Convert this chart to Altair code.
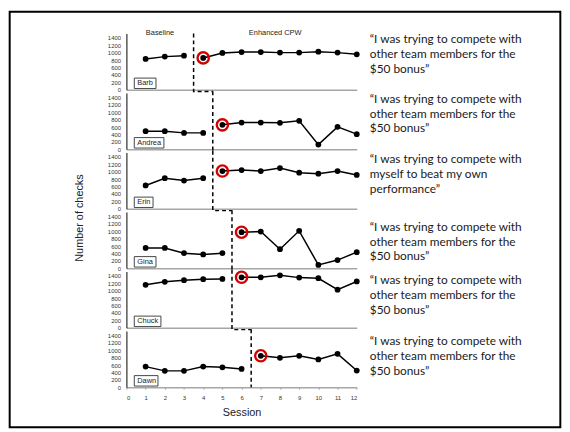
import altair as alt
import pandas as pd

# ---------------- data ----------------
SESSIONS = list(range(1, 13))
NAMES = ["Barb", "Andrea", "Erin", "Gina", "Chuck", "Dawn"]
PHASE_START = [4, 5, 5, 6, 6, 7]          # first Enhanced CPW session
BARB = [833, 895, 921, 860, 993, 1019, 1019, 1003, 1003, 1028, 1003, 958]
ANDREA = [488, 488, 442, 442, 659, 722, 722, 713, 768, 125, 605, 407]
ERIN = [629, 825, 761, 825, 1019, 1046, 1019, 1099, 974, 947, 1019, 913]
GINA = [548, 548, 407, 372, 407, 974, 993, 514, 1011, 89, 221, 434]
CHUCK = [1160, 1241, 1286, 1312, 1320, 1364, 1364, 1418, 1355, 1338, 1028, 1250]
DAWN = [558, 443, 443, 558, 540, 496, 850, 797, 850, 753, 903, 452]
SERIES = [BARB, ANDREA, ERIN, GINA, CHUCK, DAWN]

Q_TEAM = "\u201cI was trying to compete with\nother team members for the\n$50 bonus\u201d"
Q_SELF = "\u201cI was trying to compete with\nmyself to beat my own\nperformance\u201d"
QUOTES = [Q_TEAM, Q_TEAM, Q_SELF, Q_TEAM, Q_TEAM, Q_TEAM]
PHASE_LABELS = ["Baseline", "Enhanced CPW"]
X_TICKS = list(range(0, 13))
Y_TICKS = [0, 200, 400, 600, 800, 1000, 1200, 1400]
X_TITLE = "Session"
Y_TITLE = "Number of checks"

# ---------------- layout ----------------
W, H, SPACING = 233.4, 57, 3.3
YMAX = 1520
PX_X = W / 12.0           # px per session
PX_Y = YMAX / H           # value units per px
FONT = "Liberation Sans"
QFONT = "Lato"
RED = "#d40000"
GRAY = "#a6a6a6"
BOX_W = {"Barb": 22, "Andrea": 30, "Erin": 19, "Gina": 22, "Chuck": 27, "Dawn": 24}
QUOTE_X = 12.68
QUOTE_TOP = [1493, 1493, 1477, 1253, 1416, 1379]
PHASE_LABEL_X = [1.75, 7.75]


def panel(i):
    name = NAMES[i]
    start = PHASE_START[i]
    last = i == len(NAMES) - 1

    if last:
        x_axis = alt.Axis(values=X_TICKS, labelFontSize=6, labelColor="#333", labelFont=FONT,
                          ticks=True, tickSize=2, tickColor=GRAY, labelPadding=5,
                          domainColor=GRAY, domainWidth=1.5, grid=False,
                          titleFont=FONT, titleFontSize=11, titleFontWeight="normal",
                          titleColor="#222", titlePadding=7)
    else:
        x_axis = alt.Axis(values=X_TICKS, labels=False, ticks=False, domainColor=GRAY,
                          domainWidth=1.5, grid=False)
    y_axis = alt.Axis(values=Y_TICKS, format="d", labelFontSize=6, labelColor="#333",
                      labelFont=FONT, ticks=False, labelPadding=6, domainColor="black",
                      domainWidth=1, grid=False)
    X = alt.X("session:Q", scale=alt.Scale(domain=[0, 12], nice=False, zero=False),
              axis=x_axis, title=X_TITLE if last else None)
    Y = alt.Y("checks:Q", scale=alt.Scale(domain=[0, YMAX], nice=False),
              axis=y_axis, title=None)

    df = pd.DataFrame({
        "session": SESSIONS,
        "checks": SERIES[i],
        "phase": ["base" if s < start else "tx" for s in SESSIONS],
    })
    first = df[df["session"] == start]

    layers = []
    layers.append(alt.Chart(df).mark_line(color="black", strokeWidth=1.5)
                  .encode(x=X, y=Y, detail="phase:N"))
    layers.append(alt.Chart(df).mark_circle(color="black", size=34, opacity=1)
                  .encode(x=X, y=Y))
    layers.append(alt.Chart(first).mark_point(shape="circle", filled=False, color=RED,
                                              strokeWidth=2.4, size=130, opacity=1)
                  .encode(x=X, y=Y))

    # dashed phase-change line
    p = start - 0.5
    top = YMAX if i == 0 else YMAX + 1.7 * PX_Y
    if last:
        dash = pd.DataFrame({"session": [p, p], "checks": [top, 0], "o": [0, 1]})
    else:
        pn = PHASE_START[i + 1] - 0.5
        yb = -1.9 * PX_Y
        dash = pd.DataFrame({"session": [p, p, pn], "checks": [top, yb, yb], "o": [0, 1, 2]})
    layers.append(alt.Chart(dash).mark_line(color="black", strokeWidth=1.5, strokeDash=[4, 3])
                  .encode(x=X, y=Y, order="o:Q"))

    # name box
    x0 = 0.41
    box = pd.DataFrame({"session": [x0], "session2": [x0 + BOX_W[name] / PX_X],
                        "checks": [1.2 * PX_Y], "checks2": [11.8 * PX_Y],
                        "label": [name], "ty": [6.5 * PX_Y]})
    layers.append(alt.Chart(box).mark_rect(fill="white", stroke="#444", strokeWidth=1)
                  .encode(x=X, x2=alt.X2("session2"), y=Y, y2=alt.Y2("checks2")))
    layers.append(alt.Chart(box).mark_text(align="left", baseline="middle", dx=3,
                                           font=FONT, fontSize=7.5, color="#222")
                  .encode(x=X, y=alt.Y("ty:Q", scale=alt.Scale(domain=[0, YMAX], nice=False),
                                       axis=y_axis, title=None),
                          text="label:N"))

    # quote
    qdf = pd.DataFrame({"session": [QUOTE_X], "checks": [QUOTE_TOP[i]], "q": [QUOTES[i]]})
    layers.append(alt.Chart(qdf).mark_text(align="left", baseline="top", lineBreak="\n",
                                           lineHeight=15, font=QFONT, fontSize=12,
                                           color="#1a1a1a")
                  .encode(x=X, y=Y, text="q:N"))

    if i == 0:
        ph = pd.DataFrame({"session": PHASE_LABEL_X, "checks": [YMAX, YMAX],
                           "t": PHASE_LABELS})
        layers.append(alt.Chart(ph).mark_text(align="center", baseline="middle", font=FONT,
                                              fontSize=7.5, color="#222")
                      .encode(x=X, y=Y, text="t:N"))
        # outer frame
        layers.append(alt.Chart(pd.DataFrame({"k": [0]}))
                      .mark_rect(fill="white", fillOpacity=0, stroke="black", strokeWidth=2)
                      .encode(x=alt.value(-118.3), x2=alt.value(439.7),
                              y=alt.value(-22), y2=alt.value(399)))
    if i == 3:
        yt = pd.DataFrame({"session": [(80 - 127.3) / PX_X], "checks": [YMAX - 6.1 * PX_Y],
                           "t": [Y_TITLE]})
        layers.append(alt.Chart(yt).mark_text(align="center", baseline="middle", angle=270,
                                              font=FONT, fontSize=11, color="#222")
                      .encode(x=X, y=Y, text="t:N"))

    return alt.layer(*layers).properties(width=W, height=H)


chart = alt.vconcat(*[panel(i) for i in range(len(NAMES))], spacing=SPACING,
                    bounds="flush", padding=0).configure_view(stroke=None)

chart.save("out.html", embed_options={"renderer": "svg", "actions": False})
